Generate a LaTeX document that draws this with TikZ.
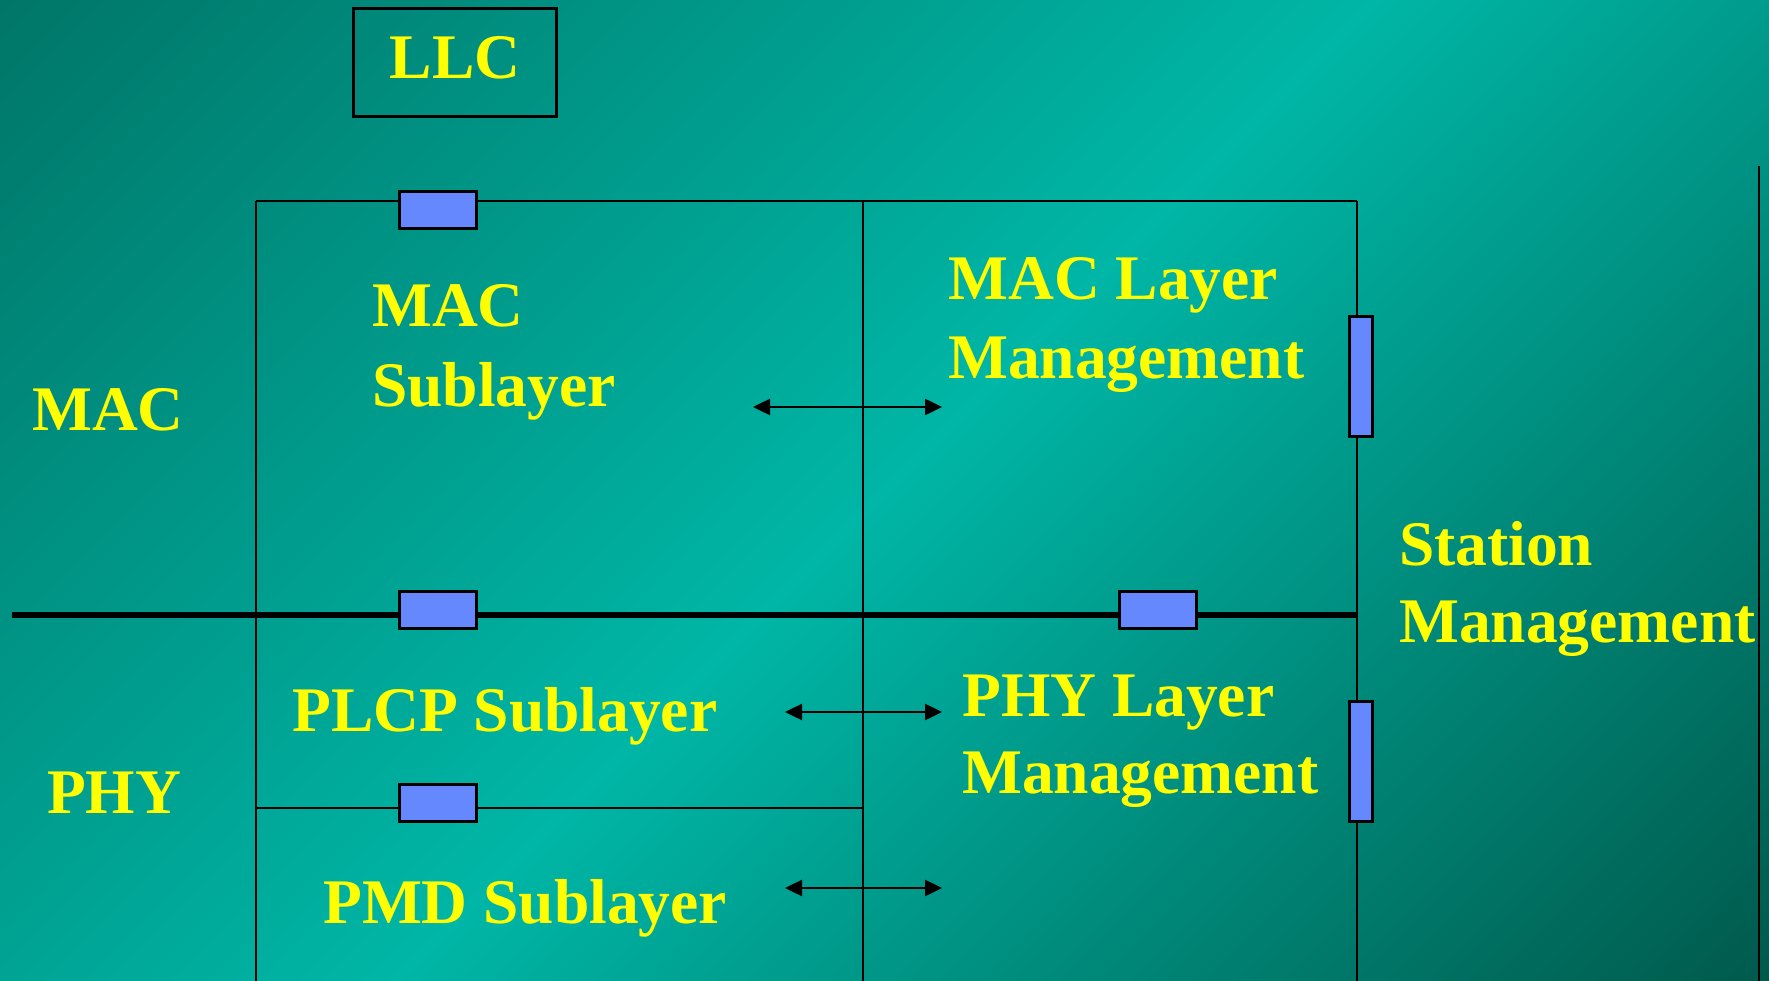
\documentclass[tikz,border=0pt]{standalone}
\usepackage{fontspec}
\setmainfont{Liberation Serif}
\usetikzlibrary{arrows.meta}
\definecolor{bgdark}{RGB}{0,118,104}
\definecolor{bglight}{RGB}{0,182,166}
\definecolor{bgdark2}{RGB}{0,90,76}
\definecolor{txtyellow}{RGB}{255,255,0}
\definecolor{portblue}{RGB}{102,136,255}
\pgfdeclarehorizontalshading{bgshade}{100bp}{color(0bp)=(bgdark); color(14.6bp)=(bgdark); color(50bp)=(bglight); color(85.4bp)=(bgdark2); color(100bp)=(bgdark2)}
\tikzset{
  lbl/.style={text=txtyellow, font=\bfseries\fontsize{63.5}{70}\selectfont, inner sep=0pt, anchor=base west},
  frame/.style={draw=black, line width=2.5pt},
  thick line/.style={draw=black, line width=5.5pt},
  port/.style={draw=black, line width=3pt, fill=portblue, inner sep=0pt},
  hport/.style={port, minimum width=77pt, minimum height=37pt},
  vport/.style={port, minimum width=23pt, minimum height=120pt},
  biarrow/.style={draw=black, line width=2.5pt, {Triangle[length=17pt,width=16pt]}-{Triangle[length=17pt,width=16pt]}}
}
\begin{document}
\begin{tikzpicture}[x=1pt,y=-1pt]
\useasboundingbox (0,0) rectangle (1769,981);
\shade[shading=bgshade, shading angle=-45] (0,0) rectangle (1769,981);

% frame coordinates
\coordinate (tl) at (256,201);
\coordinate (tm) at (863,201);
\coordinate (tr) at (1357,201);
\coordinate (bl) at (256,981);
\coordinate (bm) at (863,981);
\coordinate (br) at (1357,981);
\coordinate (hl) at (12,615);
\coordinate (hr) at (1357,615);
\coordinate (pl) at (256,808);
\coordinate (pm) at (863,808);
\coordinate (st) at (1759,166);
\coordinate (sb) at (1759,981);

\draw[frame] (tl) -- (tr);
\draw[frame] (tl) -- (bl);
\draw[frame] (tm) -- (bm);
\draw[frame] (tr) -- (br);
\draw[frame] (pl) -- (pm);
\draw[thick line] (hl) -- (hr);
\draw[frame] (st) -- (sb);

% LLC box
\node[draw=black, line width=3pt, minimum width=203pt, minimum height=108pt,
      text=txtyellow, font=\bfseries\fontsize{63.5}{70}\selectfont,
      text height=44pt, text depth=11pt, inner sep=0pt] (llc) at (455,62.5) {LLC};

% ports
\node[hport] (p1) at (438,210) {};
\node[hport] (p2) at (438,610) {};
\node[hport] (p3) at (438,803) {};
\node[hport] (p4) at (1158,610) {};
\node[vport] (v1) at (1361,376.5) {};
\node[vport] (v2) at (1361,761.5) {};

% labels
\node[lbl] (mac) at (32,430) {MAC};
\node[lbl] (phy) at (47,813) {PHY};
\node[lbl] (macsubA) at (372,327) {MAC};
\node[lbl] (macsubB) at (372,406) {Sublayer};
\node[lbl] (maclmA) at (948,300) {MAC Layer};
\node[lbl] (maclmB) at (948,378) {Management};
\node[lbl] (stA) at (1399,565) {Station};
\node[lbl] (stB) at (1399,642) {Management};
\node[lbl] (plcp) at (292,731) {PLCP Sublayer};
\node[lbl] (phylmA) at (962,716) {PHY Layer};
\node[lbl] (phylmB) at (962,793) {Management};
\node[lbl] (pmd) at (323,923) {PMD Sublayer};

% arrows
\coordinate (a1l) at (753,407);
\coordinate (a1r) at (942,407);
\coordinate (a2l) at (785,712);
\coordinate (a2r) at (942,712);
\coordinate (a3l) at (785,888);
\coordinate (a3r) at (942,888);
\draw[biarrow] (a1l) -- (a1r);
\draw[biarrow] (a2l) -- (a2r);
\draw[biarrow] (a3l) -- (a3r);
\end{tikzpicture}
\end{document}
